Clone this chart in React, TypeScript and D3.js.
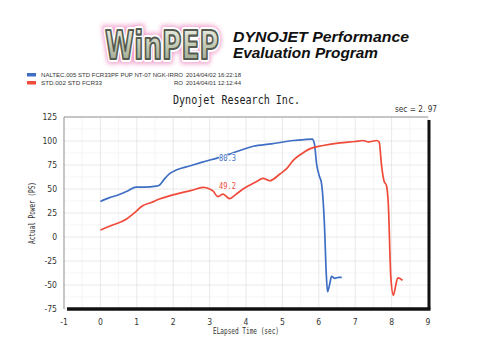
import React, { useRef, useEffect } from "react";
import * as d3 from "d3";

// ---- data ----
const blueTime = [0, 0.25, 0.5, 0.75, 0.98, 1.2, 1.53, 1.62, 1.75, 1.9, 2.1, 2.45, 2.8, 3.27, 3.6, 4.2, 4.7, 5.3, 5.6, 5.82, 5.88, 5.94, 6.01, 6.07, 6.15, 6.21, 6.24, 6.3, 6.35, 6.44, 6.55, 6.63];
const bluePower = [37, 41, 44, 48, 52, 52, 53, 54, 60, 66, 70, 74, 78, 83, 87, 94.5, 97, 100.5, 101.5, 102, 97, 76, 64, 57, 17, -42, -57, -49, -41, -43, -42, -42];

const redTime = [0, 0.3, 0.71, 0.9, 1.16, 1.4, 1.62, 2.08, 2.5, 2.82, 3.0, 3.09, 3.23, 3.37, 3.55, 3.73, 3.92, 4.1, 4.28, 4.47, 4.65, 4.93, 5.11, 5.29, 5.5, 5.75, 6.12, 6.58, 7.0, 7.22, 7.36, 7.59, 7.66, 7.72, 7.79, 7.86, 7.91, 7.98, 8.05, 8.1, 8.17, 8.23, 8.3];
const redPower = [7.3, 12, 18.5, 24, 32.5, 36, 39.5, 44.7, 48.5, 51.6, 50, 48, 42, 44.7, 40, 44.7, 50, 54, 57.6, 61, 58.6, 65.6, 70.9, 79.6, 86, 91.8, 95.3, 98.1, 99.5, 100.5, 99, 100.5, 98.8, 76, 58.6, 53.4, 34.2, -42.6, -60.7, -53, -42.6, -43.2, -45.3];

const xTicks = [-1, 0, 1, 2, 3, 4, 5, 6, 7, 8, 9];
const yTicks = [125, 100, 75, 50, 25, 0, -25, -50, -75];

const cursorSec = 2.97;
const blueCursorLabel = "80.3";
const redCursorLabel = "49.2";

const legendRows = [
  { name: "NALTEC.005   STD FCR33PF PUP NT-07 NGK-IRRO", nameWidth: 142, date: "2014/04/02 16:22:18", color: "#3f6fc4" },
  { name: "STD.002   STD FCR33", nameWidth: 61, tag: "RO", date: "2014/04/01 12:12:44", color: "#ef4a3a" },
];

function App() {
  const ref = useRef(null);

  useEffect(() => {
    const svg = d3.select(ref.current);
    svg.selectAll("*").remove();

    const narrow = "'Liberation Sans Narrow', 'DejaVu Sans Condensed', sans-serif";

    // ---- header ----
    const defs = svg.append("defs");
    defs.append("filter").attr("id", "glow").attr("x", "-20%").attr("y", "-40%").attr("width", "140%").attr("height", "180%")
      .append("feGaussianBlur").attr("stdDeviation", 2.2);
    const grad = defs.append("linearGradient").attr("id", "logoFill").attr("x1", 0).attr("y1", 0).attr("x2", 0).attr("y2", 1);
    grad.append("stop").attr("offset", "0%").attr("stop-color", "#f6f7f0");
    grad.append("stop").attr("offset", "50%").attr("stop-color", "#c3cab4");
    grad.append("stop").attr("offset", "100%").attr("stop-color", "#8e9a84");

    const logoG = svg.append("g").attr("transform", "translate(105,59) scale(1,1.3)");
    const logo = (sel) => sel.attr("x", 0).attr("y", 0).text("WinPEP")
      .attr("textLength", 114).attr("lengthAdjust", "spacingAndGlyphs")
      .style("font-family", "'DejaVu Sans Condensed', 'DejaVu Sans', sans-serif").style("font-weight", 900).style("font-size", "30px");
    logoG.append("text").call(logo).attr("fill", "#f2a6cf").attr("stroke", "#ec86bd").attr("stroke-width", 7).attr("opacity", 0.8).attr("filter", "url(#glow)");
    logoG.append("text").call(logo).attr("fill", "none").attr("stroke", "#fff").attr("stroke-width", 4.5).attr("stroke-linejoin", "round");
    logoG.append("text").call(logo).attr("fill", "url(#logoFill)").attr("stroke", "#555b50").attr("stroke-width", 1.6).attr("stroke-linejoin", "round");

    const hdr = "'Liberation Sans', Arial, sans-serif";
    svg.append("text").attr("x", 233).attr("y", 42).text("DYNOJET Performance")
      .attr("textLength", 176).attr("lengthAdjust", "spacingAndGlyphs")
      .style("font-family", hdr).style("font-style", "italic").style("font-weight", "bold").style("font-size", "14.5px").attr("fill", "#111");
    svg.append("text").attr("x", 233).attr("y", 57.5).text("Evaluation Program")
      .attr("textLength", 145).attr("lengthAdjust", "spacingAndGlyphs")
      .style("font-family", hdr).style("font-style", "italic").style("font-weight", "bold").style("font-size", "14.5px").attr("fill", "#111");

    // ---- legend ----
    legendRows.forEach((r, i) => {
      const y = 75 + i * 8;
      svg.append("rect").attr("x", 27).attr("y", y - 2).attr("width", 9).attr("height", 3.5).attr("fill", r.color);
      svg.append("text").attr("x", 41).attr("y", y + 2).text(r.name)
        .attr("textLength", r.nameWidth).attr("lengthAdjust", "spacingAndGlyphs")
        .style("font-family", hdr).style("font-size", "6px").attr("fill", "#333");
      if (r.tag) {
        svg.append("text").attr("x", 183).attr("y", y + 2).text(r.tag).style("text-anchor", "end")
          .style("font-family", hdr).style("font-size", "6px").attr("fill", "#333");
      }
      svg.append("text").attr("x", 186).attr("y", y + 2).text(r.date)
        .attr("textLength", 55).attr("lengthAdjust", "spacingAndGlyphs")
        .style("font-family", hdr).style("font-size", "6px").attr("fill", "#333");
    });

    svg.append("text").attr("x", 173).attr("y", 104).text("Dynojet  Research  Inc.")
      .attr("textLength", 127).attr("lengthAdjust", "spacingAndGlyphs")
      .style("font-family", "'DejaVu Sans Mono', monospace").style("font-size", "13px").attr("fill", "#222");

    svg.append("text").attr("x", 437).attr("y", 112).text(`sec = ${cursorSec.toFixed(2).replace(".", ". ")}`)
      .style("text-anchor", "end").attr("textLength", 42).attr("lengthAdjust", "spacingAndGlyphs")
      .style("font-family", narrow).style("font-size", "8px").attr("fill", "#333");

    // ---- scales ----
    const plot = { left: 64, right: 428, top: 117, bottom: 309 };
    const xScale = d3.scaleLinear().domain([-1, 9]).range([plot.left, plot.right]);
    const yScale = d3.scaleLinear().domain([-75, 125]).range([plot.bottom, plot.top]);

    // ---- grid ----
    const grid = svg.append("g");
    grid.selectAll(".vminor").data(d3.range(-0.5, 9, 1)).join("line")
      .attr("x1", (d) => xScale(d)).attr("x2", (d) => xScale(d))
      .attr("y1", plot.top).attr("y2", plot.bottom).attr("stroke", "#f2f2f2").attr("stroke-width", 0.8);
    grid.selectAll(".hminor").data(d3.range(-62.5, 125, 25)).join("line")
      .attr("x1", plot.left).attr("x2", plot.right)
      .attr("y1", (d) => yScale(d)).attr("y2", (d) => yScale(d)).attr("stroke", "#f2f2f2").attr("stroke-width", 0.8);
    grid.selectAll(".vmajor").data(xTicks).join("line")
      .attr("x1", (d) => xScale(d)).attr("x2", (d) => xScale(d))
      .attr("y1", plot.top).attr("y2", plot.bottom).attr("stroke", "#e2e2e2").attr("stroke-width", 0.8);
    grid.selectAll(".hmajor").data(yTicks).join("line")
      .attr("x1", plot.left).attr("x2", plot.right)
      .attr("y1", (d) => yScale(d)).attr("y2", (d) => yScale(d)).attr("stroke", "#e2e2e2").attr("stroke-width", 0.8);

    // frame: thin top/left, heavy bottom/right
    svg.append("line").attr("x1", plot.left).attr("x2", plot.right).attr("y1", plot.top).attr("y2", plot.top).attr("stroke", "#999");
    svg.append("line").attr("x1", plot.left).attr("x2", plot.left).attr("y1", plot.top).attr("y2", plot.bottom).attr("stroke", "#999");
    svg.append("line").attr("x1", plot.left + 3).attr("x2", plot.right + 2.5).attr("y1", plot.bottom).attr("y2", plot.bottom).attr("stroke", "#111").attr("stroke-width", 3.5);
    svg.append("line").attr("x1", plot.right + 1).attr("x2", plot.right + 1).attr("y1", plot.top + 3).attr("y2", plot.bottom).attr("stroke", "#111").attr("stroke-width", 3);

    // ---- axes labels ----
    svg.append("g").selectAll("text").data(xTicks).join("text")
      .attr("x", (d) => xScale(d)).attr("y", 325).text((d) => d)
      .style("text-anchor", "middle").style("font-family", narrow).style("font-size", "8.5px").attr("fill", "#333");
    svg.append("g").selectAll("text").data(yTicks).join("text")
      .attr("x", 57).attr("y", (d) => yScale(d) + 3).text((d) => d)
      .style("text-anchor", "end").style("font-family", narrow).style("font-size", "8.5px").attr("fill", "#333");

    svg.append("text").attr("x", 246).attr("y", 334).text("ELapsed Time (sec)")
      .style("text-anchor", "middle").attr("textLength", 66).attr("lengthAdjust", "spacingAndGlyphs")
      .style("font-family", "'DejaVu Sans Mono', monospace").style("font-size", "8.5px").attr("fill", "#333");
    svg.append("text").attr("transform", "translate(35,213) rotate(-90)").text("Actual Power (PS)")
      .style("text-anchor", "middle").attr("textLength", 62).attr("lengthAdjust", "spacingAndGlyphs")
      .style("font-family", "'DejaVu Sans Mono', monospace").style("font-size", "8.5px").attr("fill", "#333");

    // ---- curves ----
    const line = d3.line().x((d) => xScale(d[0])).y((d) => yScale(d[1])).curve(d3.curveMonotoneX);
    const series = [
      { t: blueTime, v: bluePower, color: "#3f6fc4", label: blueCursorLabel },
      { t: redTime, v: redPower, color: "#ef4a3a", label: redCursorLabel },
    ];
    series.forEach((s) => {
      const pts = s.t.map((t, i) => [t, s.v[i]]);
      svg.append("path").datum(pts).attr("d", line).attr("fill", "none")
        .attr("stroke", s.color).attr("stroke-width", 1.7).attr("stroke-linejoin", "round");
      const v = d3.scaleLinear().domain(s.t).range(s.v)(cursorSec);
      svg.append("text").attr("x", xScale(cursorSec) + 19).attr("y", yScale(v) + 0.5).text(s.label)
        .style("text-anchor", "middle").attr("textLength", 17).attr("lengthAdjust", "spacingAndGlyphs")
        .style("font-family", "'DejaVu Sans Mono', monospace").style("font-size", "8.5px")
        .attr("fill", s.color).attr("stroke", "#fff").attr("stroke-width", 1.5).attr("paint-order", "stroke");
    });
  }, []);

  return (
    <svg ref={ref} width={500} height={353} style={{ position: "absolute", left: 0, top: 0, background: "#fff" }} />
  );
}

export default App;
